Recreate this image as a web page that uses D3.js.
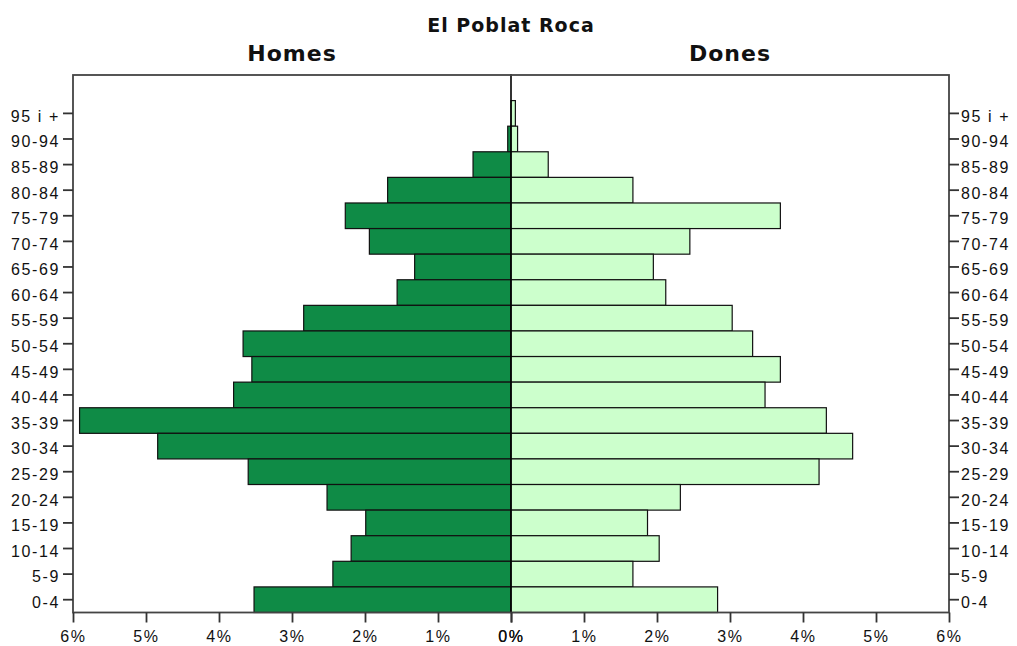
<!DOCTYPE html>
<html>
<head>
<meta charset="utf-8">
<script src="https://cdn.jsdelivr.net/npm/d3@7"></script>
<style>
  html, body { margin: 0; padding: 0; background: #fff; }
  svg { display: block; }
</style>
</head>
<body>
<script>
// ---- Data ----
const title = "El Poblat Roca";
const leftLabel = "Homes";
const rightLabel = "Dones";
const ageGroups = ["95 i +", "90-94", "85-89", "80-84", "75-79", "70-74", "65-69", "60-64",
  "55-59", "50-54", "45-49", "40-44", "35-39", "30-34", "25-29", "20-24", "15-19",
  "10-14", "5-9", "0-4"];
const homes = [0.00, 0.045, 0.52, 1.69, 2.27, 1.94, 1.32, 1.56, 2.84, 3.67, 3.55, 3.80,
  5.91, 4.84, 3.60, 2.52, 1.99, 2.19, 2.44, 3.52];
const dones = [0.06, 0.09, 0.51, 1.67, 3.69, 2.45, 1.95, 2.12, 3.03, 3.31, 3.69, 3.48,
  4.32, 4.68, 4.22, 2.32, 1.87, 2.03, 1.67, 2.83];
const xTicks = [0, 1, 2, 3, 4, 5, 6];

(function () {
// ---- Layout ----
const W = 1017, H = 646;
const pLeft = 73, pRight = 949, pCenter = 511, pTop = 75, pBottom = 612.5;
const bandStep = (pBottom - pTop) / (ageGroups.length + 1);

const svg = d3.select("body").append("svg").attr("width", W).attr("height", H);

const xL = d3.scaleLinear().domain([6, 0]).range([pLeft, pCenter]);
const xR = d3.scaleLinear().domain([0, 6]).range([pCenter, pRight]);
const y = d3.scaleBand().domain(ageGroups).range([pTop + bandStep, pBottom]).padding(0);

const darkGreen = "#0f8b46";
const lightGreen = "#ccffcc";

// bars
const g = svg.append("g");
g.selectAll("rect.h").data(ageGroups).join("rect")
  .attr("class", "h")
  .attr("x", (d, i) => xL(homes[i]))
  .attr("y", d => y(d))
  .attr("width", (d, i) => pCenter - xL(homes[i]))
  .attr("height", y.bandwidth())
  .attr("fill", darkGreen)
  .attr("stroke", "#111")
  .attr("stroke-width", 1.2)
  .attr("display", (d, i) => homes[i] > 0 ? null : "none");

g.selectAll("rect.d").data(ageGroups).join("rect")
  .attr("class", "d")
  .attr("x", pCenter)
  .attr("y", d => y(d))
  .attr("width", (d, i) => xR(dones[i]) - pCenter)
  .attr("height", y.bandwidth())
  .attr("fill", lightGreen)
  .attr("stroke", "#111")
  .attr("stroke-width", 1.2)
  .attr("display", (d, i) => dones[i] > 0 ? null : "none");

// center line
svg.append("line")
  .attr("x1", pCenter).attr("x2", pCenter)
  .attr("y1", pTop - 1).attr("y2", pBottom)
  .attr("stroke", "#000").attr("stroke-width", 1.6);

// frame
svg.append("rect")
  .attr("x", pLeft).attr("y", pTop)
  .attr("width", pRight - pLeft).attr("height", pBottom - pTop)
  .attr("fill", "none").attr("stroke", "#444").attr("stroke-width", 1.8);

const tickFont = "'Liberation Sans', Arial, sans-serif";

function styleAxis(sel) {
  sel.select(".domain").remove();
  sel.selectAll(".tick line").attr("stroke", "#333").attr("stroke-width", 1.8);
  sel.selectAll(".tick text")
    .attr("fill", "#111")
    .style("font-family", tickFont)
    .style("font-size", "16px")
    .style("letter-spacing", "1.6px");
}

svg.append("g").attr("transform", `translate(${pLeft},0)`)
  .call(d3.axisLeft(y).tickSize(10).tickSizeOuter(0).tickPadding(3))
  .call(styleAxis)
  .selectAll(".tick text").attr("dy", "0.52em");

svg.append("g").attr("transform", `translate(${pRight},0)`)
  .call(d3.axisRight(y).tickSize(10).tickSizeOuter(0).tickPadding(2))
  .call(styleAxis)
  .selectAll(".tick text").attr("dy", "0.52em");

svg.append("g").attr("transform", `translate(0,${pBottom})`)
  .call(d3.axisBottom(xL).tickValues(xTicks).tickFormat(d => d + "%").tickSize(10).tickSizeOuter(0).tickPadding(8))
  .call(styleAxis);

svg.append("g").attr("transform", `translate(0,${pBottom})`)
  .call(d3.axisBottom(xR).tickValues(xTicks).tickFormat(d => d + "%").tickSize(10).tickSizeOuter(0).tickPadding(8))
  .call(styleAxis);

// titles
const titleFont = "'DejaVu Sans', Verdana, sans-serif";
svg.append("text")
  .attr("x", pCenter).attr("y", 32)
  .attr("text-anchor", "middle")
  .style("font-family", titleFont).style("font-weight", "bold")
  .style("font-size", "19px").style("letter-spacing", "1px")
  .attr("fill", "#111")
  .text(title);

svg.append("text")
  .attr("x", (pLeft + pCenter) / 2).attr("y", 61)
  .attr("text-anchor", "middle")
  .style("font-family", titleFont).style("font-weight", "bold")
  .style("font-size", "22px").style("letter-spacing", "1px")
  .attr("fill", "#111")
  .text(leftLabel);

svg.append("text")
  .attr("x", (pCenter + pRight) / 2).attr("y", 61)
  .attr("text-anchor", "middle")
  .style("font-family", titleFont).style("font-weight", "bold")
  .style("font-size", "22px").style("letter-spacing", "1px")
  .attr("fill", "#111")
  .text(rightLabel);
})();
</script>
</body>
</html>
